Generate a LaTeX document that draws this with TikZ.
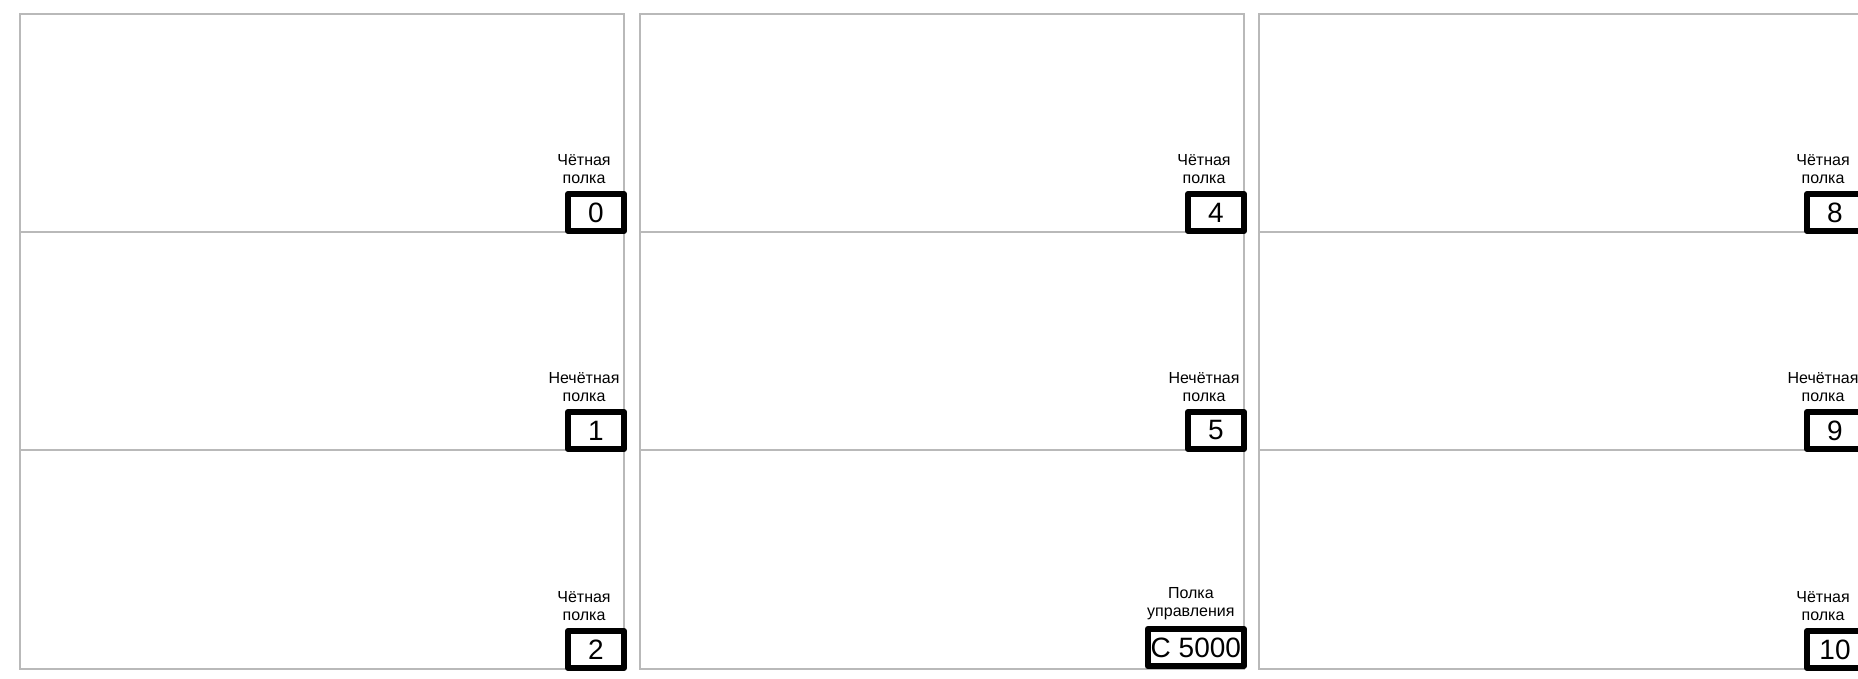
\documentclass[tikz,border=0pt]{standalone}
\usepackage{fontspec}
\setmainfont{Liberation Sans}
\usetikzlibrary{positioning}
\begin{document}
\begin{tikzpicture}
  [x=0.5pt, y=-0.5pt,
   panel/.style={draw=gray!55, line width=1pt},
   shelf box/.style={draw, line width=3pt, line join=round, minimum width=28pt, minimum height=18.5pt,
     inner sep=1.5pt, anchor=south east, font=\fontsize{14pt}{15pt}\selectfont},
   shelf label/.style={align=center, inner sep=0pt, font=\fontsize{8pt}{9pt}\selectfont}]
  \useasboundingbox (0,0) rectangle (1858,679);

  % three racks, each cut in three shelves
  \foreach \x in {20,640,1259} {
    \draw[panel] (\x,14) rectangle ++(604,655);
    \draw[panel] (\x,232) -- ++(604,0);
    \draw[panel] (\x,450) -- ++(604,0);
  }

  \node[shelf box] (b0) at (627,234) {0};
  \node[shelf box] (b1) at (627,452) {1};
  \node[shelf box] (b2) at (627,671) {2};
  \node[shelf box] (b4) at (1247,234) {4};
  \node[shelf box] (b5) at (1247,452) {5};
  \node[shelf box] (bc) at (1247,669) {C 5000};
  \node[shelf box] (b8) at (1866,234) {8};
  \node[shelf box] (b9) at (1866,452) {9};
  \node[shelf box] (b10) at (1866,671) {10};

  \node[shelf label, above=3.5pt of b0, xshift=-6pt] (l0) {Чётная\\полка};
  \node[shelf label, above=3.5pt of b1, xshift=-6pt] (l1) {Нечётная\\полка};
  \node[shelf label, above=3.5pt of b2, xshift=-6pt] (l2) {Чётная\\полка};
  \node[shelf label, above=3.5pt of b4, xshift=-6pt] (l4) {Чётная\\полка};
  \node[shelf label, above=3.5pt of b5, xshift=-6pt] (l5) {Нечётная\\полка};
  \node[shelf label, above=3pt of bc, xshift=-2.5pt] (lc) {Полка\\управления};
  \node[shelf label, above=3.5pt of b8, xshift=-6pt] (l8) {Чётная\\полка};
  \node[shelf label, above=3.5pt of b9, xshift=-6pt] (l9) {Нечётная\\полка};
  \node[shelf label, above=3.5pt of b10, xshift=-6pt] (l10) {Чётная\\полка};
\end{tikzpicture}
\end{document}
